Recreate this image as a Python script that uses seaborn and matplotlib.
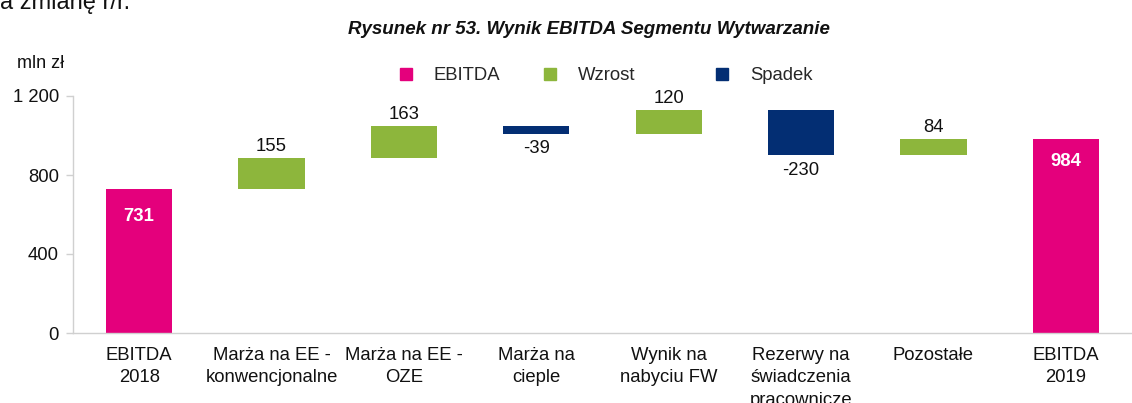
import matplotlib
matplotlib.use("Agg")
import matplotlib.pyplot as plt
from matplotlib.lines import Line2D
import numpy as np
import seaborn as sns

# Waterfall data (mln zł)
categories = [
    "EBITDA\n2018",
    "Marża na EE -\nkonwencjonalne",
    "Marża na EE -\nOZE",
    "Marża na\ncieple",
    "Wynik na\nnabyciu FW",
    "Rezerwy na\nświadczenia\npracownicze",
    "Pozostałe",
    "EBITDA\n2019",
]
start_value = 731
changes = [155, 163, -39, 120, -230, 84]
end_value = 984
y_ticks = [0, 400, 800, 1200]
y_tick_labels = ["0", "400", "800", "1 200"]
legend_labels = ["EBITDA", "Wzrost", "Spadek"]

PINK = "#E4007C"
GREEN = "#8DB63C"
NAVY = "#032E73"
GRAY = "#D0D0D0"
TXT = "#111111"
FS = 13.3

sns.set_theme(style="white")
plt.rcParams["font.family"] = ["Liberation Sans", "DejaVu Sans"]

fig = plt.figure(figsize=(11.32, 4.03), dpi=100)
ax = fig.add_axes([73 / 1132, 1 - 333 / 403, 1 - 73 / 1132, (333 - 96) / 403])

# Floating bar geometry from the cumulative sums
levels = np.concatenate([[start_value], start_value + np.cumsum(changes)])
bottoms = [0]
heights = [start_value]
colors = [PINK]
for prev, ch in zip(levels[:-1], changes):
    bottoms.append(prev if ch >= 0 else prev + ch)
    heights.append(abs(ch))
    colors.append(GREEN if ch >= 0 else NAVY)
bottoms.append(0)
heights.append(end_value)
colors.append(PINK)

x = np.arange(len(categories))
ax.bar(x, heights, bottom=bottoms, width=0.5, color=colors, linewidth=0)

# Value labels
ax.annotate(str(start_value), (x[0], start_value), xytext=(0, -14),
            textcoords="offset points", ha="center", va="top",
            color="white", fontweight="bold", fontsize=FS)
ax.annotate(str(end_value), (x[-1], end_value), xytext=(0, -10),
            textcoords="offset points", ha="center", va="top",
            color="white", fontweight="bold", fontsize=FS)
for i, (ch, b, h) in enumerate(zip(changes, bottoms[1:-1], heights[1:-1]), start=1):
    if ch >= 0:
        ax.annotate(str(ch), (x[i], b + h), xytext=(0, 2),
                    textcoords="offset points", ha="center", va="bottom",
                    fontsize=FS, color=TXT)
    else:
        ax.annotate(str(ch), (x[i], b), xytext=(0, -5),
                    textcoords="offset points", ha="center", va="top",
                    fontsize=FS, color=TXT)

# Axes styling
ax.set_xlim(-0.5, 7.4)
ax.set_ylim(0, 1200)
ax.set_yticks(y_ticks)
ax.set_yticklabels(y_tick_labels, fontsize=FS, color=TXT)
ax.set_xticks(x)
ax.set_xticklabels(categories, fontsize=FS, color=TXT, linespacing=1.42)
ax.set_xticks(np.arange(len(categories)) + 0.5, minor=True)
ax.tick_params(axis="x", which="major", length=0, pad=10)
ax.tick_params(axis="x", which="minor", length=6, width=1, color=GRAY, direction="out")
ax.tick_params(axis="y", which="major", length=5, width=1, color=GRAY, pad=5, left=True)
for side in ["top", "right"]:
    ax.spines[side].set_visible(False)
for side in ["left", "bottom"]:
    ax.spines[side].set_color(GRAY)
    ax.spines[side].set_linewidth(1)
ax.grid(False)

# Texts around the chart
fig.text(0.0, 1 - 9 / 403, "a zmianę r/r.", fontsize=17, ha="left", va="baseline", color=TXT)
fig.text(589 / 1132, 1 - 30 / 403, "Rysunek nr 53. Wynik EBITDA Segmentu Wytwarzanie",
         fontsize=13.5, fontweight="bold", fontstyle="italic", ha="center", va="center", color=TXT)
fig.text(17 / 1132, 1 - 63 / 403, "mln zł", fontsize=13, ha="left", va="center", color=TXT)

# Legend entries, each placed individually
legend_colors = [PINK, GREEN, NAVY]
legend_x = [397, 541, 713]
for lab, col, lx in zip(legend_labels, legend_colors, legend_x):
    h = Line2D([], [], marker="s", linestyle="none", markersize=8,
               markerfacecolor=col, markeredgecolor=col)
    fig.legend([h], [lab], loc="center left", bbox_to_anchor=(lx / 1132, 1 - 76 / 403),
               frameon=False, fontsize=FS, handletextpad=1.0, borderaxespad=0,
               borderpad=0, handlelength=1.0)

fig.savefig("out.png", dpi=100)
